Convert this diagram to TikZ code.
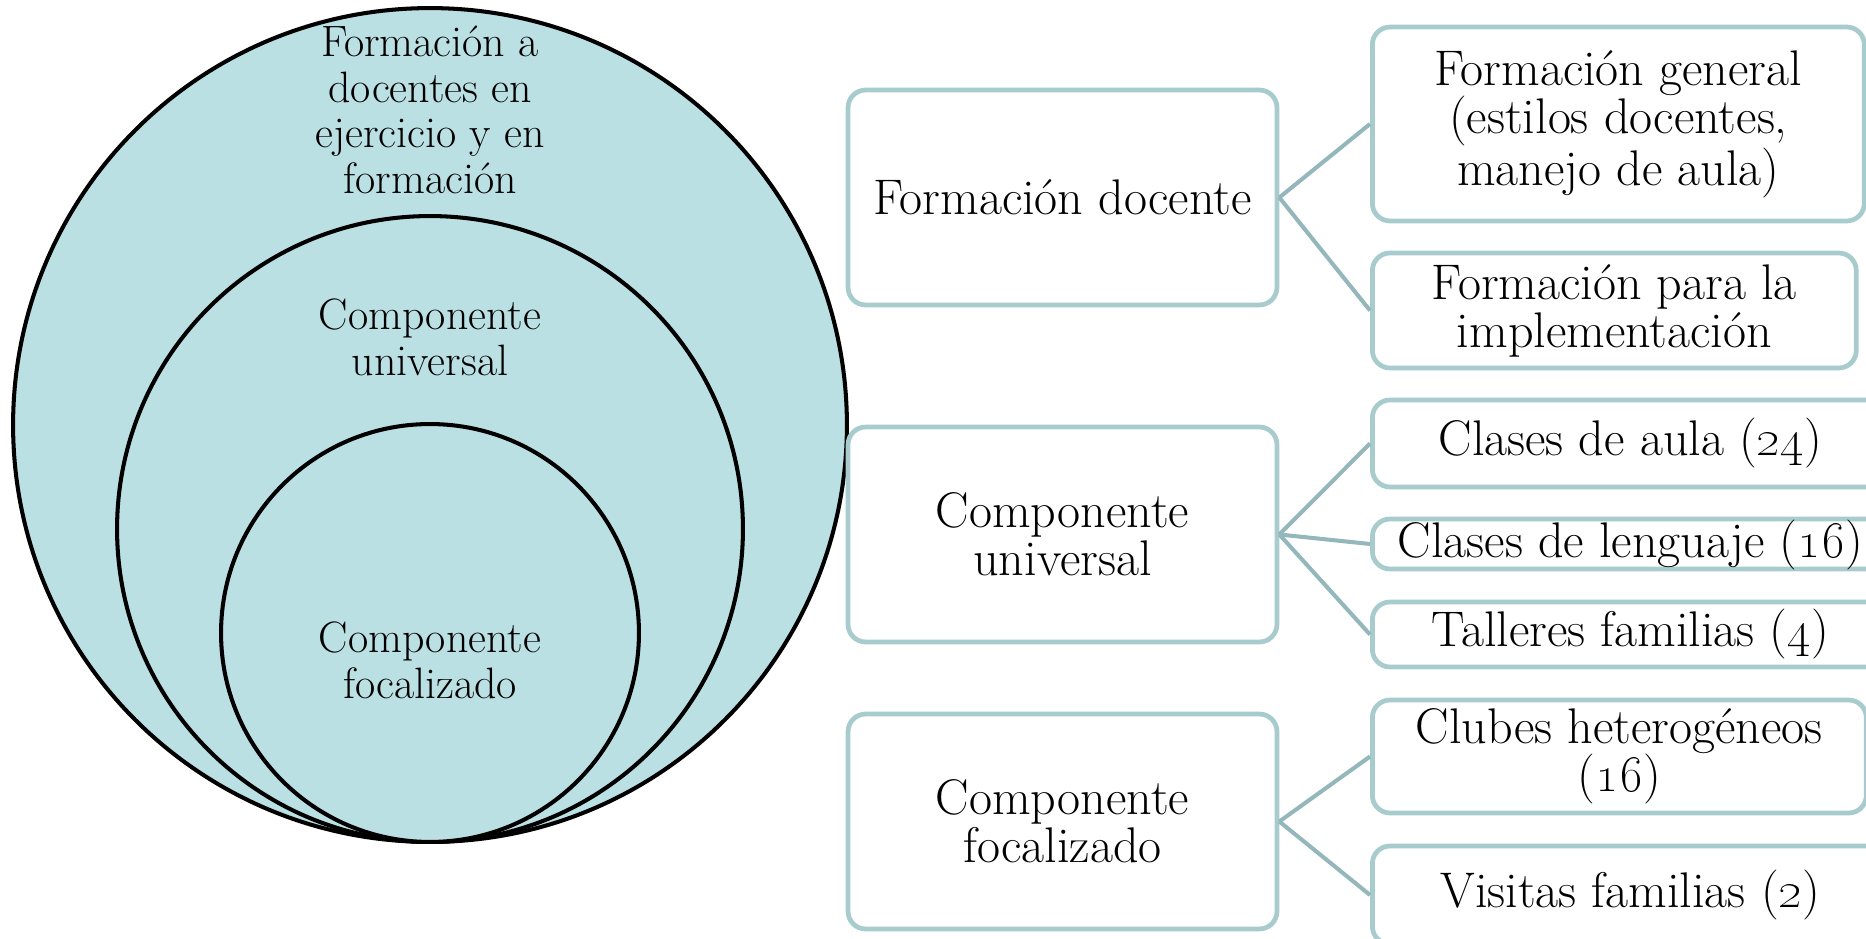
\documentclass[tikz,border=0pt]{standalone}
\usepackage{tikz}
\definecolor{RingFill}{HTML}{BBE0E3}
\definecolor{BoxLine}{HTML}{A8CBCE}
\definecolor{LinkLine}{HTML}{93B7BB}
\tikzset{
  ring/.style={circle, draw=black, line width=2.3pt, fill=RingFill, inner sep=0pt},
  ringtext/.style={align=center, font=\fontsize{25}{26}\selectfont},
  groupbox/.style={rectangle, rounded corners=10pt, draw=BoxLine, fill=white, line width=2.7pt, minimum width=8.58cm, minimum height=4.3cm, align=center, font=\fontsize{28.5}{27.3}\selectfont},
  itembox/.style={rectangle, rounded corners=10pt, draw=BoxLine, fill=white, line width=2.7pt, anchor=west, inner sep=0pt, align=center, font=\fontsize{28.5}{27.3}\selectfont},
  link/.style={LinkLine, line width=2.3pt}
}

\begin{document}
\begin{tikzpicture}[x=0.02cm, y=-0.02cm]
  \useasboundingbox (0,0) rectangle (1866,939);

  % Nested rings
  \node[ring, minimum size=16.68cm] (outer) at (430,425) {};
  \node[ring, minimum size=12.52cm] (middle) at (430,529) {};
  \node[ring, minimum size=8.36cm] (inner) at (430,633) {};
  \node[ringtext] (outerlbl) at (430,110) {Formación a\\docentes en\\ejercicio y en\\formación};
  \node[ringtext] (middlelbl) at (430,337) {Componente\\universal};
  \node[ringtext] (innerlbl) at (430,660) {Componente\\focalizado};

  % Groups
  \foreach \n/\y/\txt in {fd/197.5/Formación docente, cu/534.5/{Componente\\universal}, cf/821.5/{Componente\\focalizado}} {
    \node[groupbox] (\n) at (1062.5,\y) {\txt};
  }

  % Items
  \node[itembox, minimum width=9.84cm, minimum height=3.88cm] (fg) at (1370,124) {Formación general\\(estilos docentes,\\manejo de aula)};
  \node[itembox, minimum width=9.68cm, minimum height=2.3cm] (fi) at (1370,310.5) {Formación para la\\implementación};
  \node[itembox, minimum width=10.32cm, minimum height=1.74cm] (ca) at (1370,443.5) {Clases de aula (\oldstylenums{24})};
  \node[itembox, minimum width=10.32cm, minimum height=1cm, text height=21.6pt, text depth=6.8pt] (cl) at (1370,544) {Clases de lenguaje (\oldstylenums{16})};
  \node[itembox, minimum width=10.32cm, minimum height=1.3cm] (tf) at (1370,634.5) {Talleres familias (\oldstylenums{4})};
  \node[itembox, minimum width=9.88cm, minimum height=2.26cm] (ch) at (1370,756.5) {Clubes heterogéneos\\(\oldstylenums{16})};
  \node[itembox, minimum width=10.32cm, minimum height=1.96cm] (vf) at (1370,895) {Visitas familias (\oldstylenums{2})};

  \foreach \p/\c in {fd/fg, fd/fi, cu/ca, cu/cl, cu/tf, cf/ch, cf/vf} {
    \draw[link] (\p.east) -- (\c.west);
  }
\end{tikzpicture}
\end{document}
